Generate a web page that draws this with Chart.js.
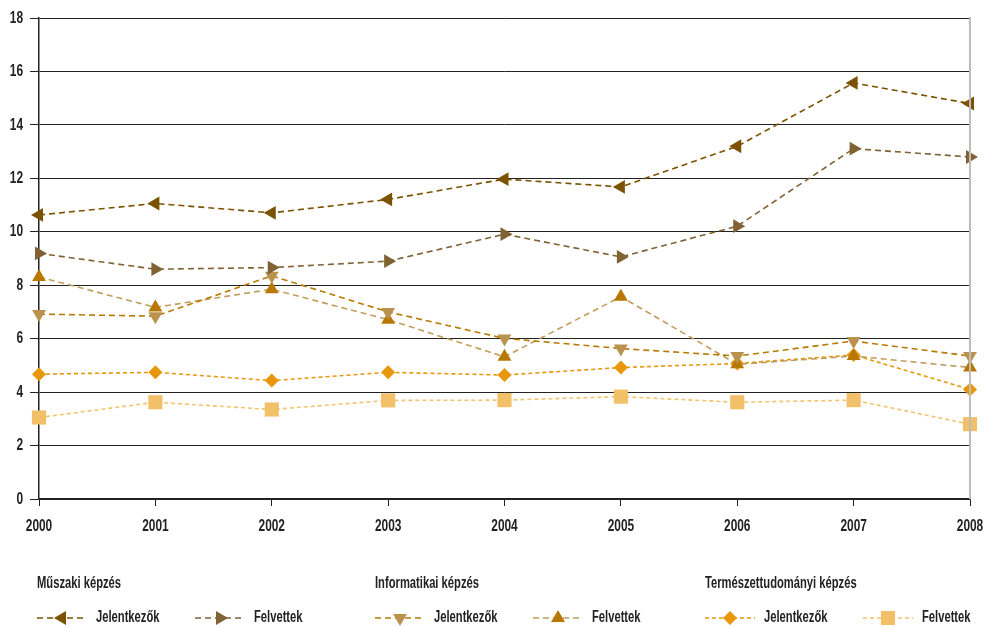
<!DOCTYPE html>
<html>
<head>
<meta charset="utf-8">
<script src="https://cdn.jsdelivr.net/npm/chart.js@4.4.1/dist/chart.umd.min.js"></script>
<style>
  html, body { margin: 0; padding: 0; background: #fff; }
  #wrap { width: 985px; height: 627px; position: relative; }
</style>
</head>
<body>
<div id="wrap"><canvas id="chart" width="985" height="627"></canvas></div>
<script>
// évek és sorozatok
const years = ["2000", "2001", "2002", "2003", "2004", "2005", "2006", "2007", "2008"];
const yTicks = [0, 2, 4, 6, 8, 10, 12, 14, 16, 18];

const muszakiJel = [10.63, 11.06, 10.71, 11.21, 11.97, 11.68, 13.20, 15.57, 14.80];
const muszakiFel = [9.19, 8.60, 8.66, 8.90, 9.91, 9.06, 10.21, 13.11, 12.80];
const infoJel    = [6.92, 6.84, 8.35, 7.00, 6.01, 5.63, 5.35, 5.91, 5.35];
const infoFel    = [8.31, 7.17, 7.85, 6.71, 5.32, 7.57, 5.04, 5.35, 4.92];
const termJel    = [4.67, 4.74, 4.43, 4.74, 4.64, 4.92, 5.07, 5.39, 4.10];
const termFel    = [3.05, 3.62, 3.35, 3.69, 3.70, 3.83, 3.62, 3.70, 2.80];

const groupTitles = ["Műszaki képzés", "Informatikai képzés", "Természettudományi képzés"];
const itemLabels  = ["Jelentkezők", "Felvettek"];

const FONT = "'Liberation Sans', Arial, sans-serif";
const SQUEEZE = 0.7; // keskeny betű utánzása

// stílusok sorozatonként
const styles = [
  { line: "#7a5200", point: "#7a5200", style: "triangle", rot: 270, r: 8,  dash: [6, 4] },
  { line: "#806235", point: "#806235", style: "triangle", rot: 90,  r: 8,  dash: [6, 4] },
  { line: "#b87a00", point: "#ba9250", style: "triangle", rot: 180, r: 8,  dash: [6, 4] },
  { line: "#c29c5c", point: "#b87800", style: "triangle", rot: 0,   r: 8,  dash: [6, 4] },
  { line: "#e8960a", point: "#e8960a", style: "rectRot",  rot: 0,   r: 7,  dash: [4, 3] },
  { line: "#f2c46c", point: "#f2c068", style: "rect",     rot: 0,   r: 10, dash: [4, 3] }
];
const series = [muszakiJel, muszakiFel, infoJel, infoFel, termJel, termFel];

const datasets = series.map((data, i) => ({
  label: groupTitles[Math.floor(i / 2)] + " – " + itemLabels[i % 2],
  data,
  borderColor: styles[i].line,
  borderWidth: 1.6,
  borderDash: styles[i].dash,
  backgroundColor: styles[i].point,
  pointBackgroundColor: styles[i].point,
  pointBorderColor: styles[i].point,
  pointBorderWidth: 0,
  pointStyle: styles[i].style,
  pointRotation: styles[i].rot,
  pointRadius: styles[i].r,
  pointHoverRadius: styles[i].r,
  tension: 0,
  fill: false
}));

function narrowText(ctx, text, x, y, align) {
  ctx.save();
  ctx.translate(x, y);
  ctx.scale(SQUEEZE, 1);
  ctx.textAlign = align;
  ctx.textBaseline = "middle";
  ctx.fillText(text, 0, 0);
  ctx.restore();
}

// tengelyfeliratok, jobb oldali keret, jelmagyarázat
const extras = {
  id: "extras",
  afterDraw(chart) {
    const ctx = chart.ctx;
    const a = chart.chartArea;
    const xs = chart.scales.x, ys = chart.scales.y;
    ctx.save();
    ctx.strokeStyle = "#bdbdbd";
    ctx.lineWidth = 2;
    ctx.beginPath();
    ctx.moveTo(a.right, a.top - 1);
    ctx.lineTo(a.right, a.bottom);
    ctx.stroke();

    ctx.fillStyle = "#222";
    ctx.font = "bold 17px " + FONT;
    ys.ticks.forEach(t => narrowText(ctx, String(t.value), 23, ys.getPixelForValue(t.value), "right"));
    xs.ticks.forEach((t, i) => narrowText(ctx, years[i], xs.getPixelForTick(i), 526, "center"));

    const groupX = [37, 375, 705];
    const itemX = [[37, 195], [375, 533], [705, 863]];
    ctx.font = "bold 16px " + FONT;
    groupTitles.forEach((t, g) => {
      ctx.fillStyle = "#222";
      narrowText(ctx, t, groupX[g], 584, "left");
      itemLabels.forEach((lab, k) => {
        const i = g * 2 + k;
        const s = styles[i];
        const x0 = itemX[g][k];
        const y = 618;
        ctx.strokeStyle = s.line;
        ctx.lineWidth = 1.6;
        ctx.setLineDash(s.dash);
        ctx.beginPath();
        ctx.moveTo(x0, y);
        ctx.lineTo(x0 + 50, y);
        ctx.stroke();
        ctx.setLineDash([]);
        ctx.fillStyle = s.point;
        ctx.strokeStyle = s.point;
        Chart.helpers.drawPoint(ctx, { pointStyle: s.style, rotation: s.rot, radius: s.r, borderWidth: 0 }, x0 + 25, y);
        ctx.fillStyle = "#222";
        narrowText(ctx, lab, x0 + 59, y, "left");
      });
    });
    ctx.restore();
  }
};

new Chart(document.getElementById("chart"), {
  type: "line",
  data: { labels: years, datasets },
  options: {
    responsive: false,
    animation: false,
    layout: { padding: { top: 18, right: 15, bottom: 88, left: 0 } },
    plugins: { legend: { display: false }, tooltip: { enabled: false } },
    scales: {
      x: {
        offset: false,
        grid: { drawOnChartArea: false, drawTicks: true, tickLength: 7, color: "#222", lineWidth: 1 },
        border: { display: true, color: "#222", width: 1.5 },
        ticks: { display: false },
        afterFit: s => { s.height = 40; }
      },
      y: {
        min: 0,
        max: 18,
        afterBuildTicks: s => { s.ticks = yTicks.map(v => ({ value: v })); },
        grid: { color: "#222", lineWidth: 1, tickLength: 9 },
        border: { display: true, color: "#222", width: 1.5 },
        ticks: { display: false },
        afterFit: s => { s.width = 39; }
      }
    }
  },
  plugins: [extras]
});
</script>
</body>
</html>
